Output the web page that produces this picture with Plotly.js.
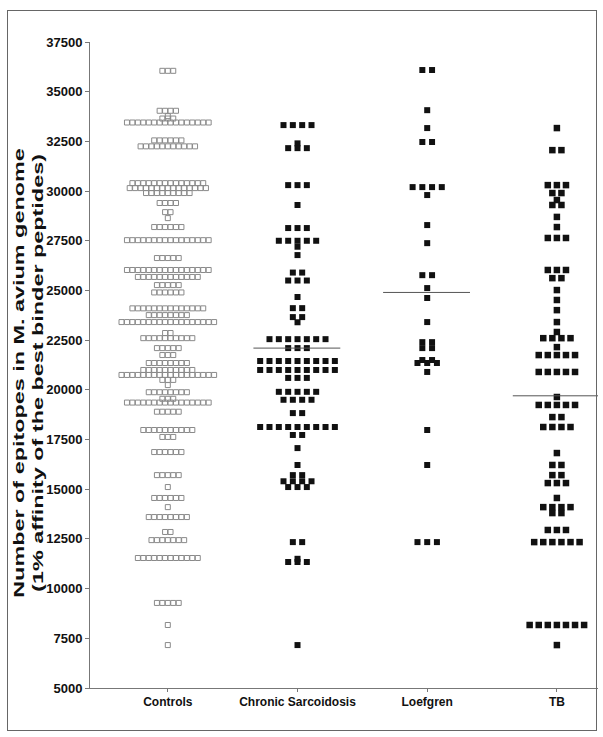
<!DOCTYPE html>
<html>
<head>
<meta charset="utf-8">
<script src="https://cdn.plot.ly/plotly-3.0.1.min.js"></script>
<style>
  html, body { margin: 0; padding: 0; background: #fff; }
  #wrap { position: relative; width: 603px; height: 737px; }
  #frame { position: absolute; left: 7px; top: 10px; width: 588px; height: 719px; border: 1px solid #666; pointer-events: none; }
  #chart { position: absolute; left: 0; top: 0; width: 603px; height: 737px; }
</style>
</head>
<body>
<div id="wrap">
  <div id="chart"></div>
  <div id="frame"></div>
</div>
<script>
// ---- Data (value levels and number of points at each level) ----
const categories = ['Controls', 'Chronic Sarcoidosis', 'Loefgren', 'TB'];

const controlsLevels = [36050,34040,33770,33650,33450,32550,32250,30400,30150,29900,29400,28940,28640,28190,27530,26630,26030,25680,25270,24900,24100,23760,23410,22860,22600,22100,21750,21350,21000,20750,20500,20240,19880,19550,19360,18900,17980,17630,16870,15710,15110,14560,14100,13600,12850,12440,11540,9280,8170,7160];
const controlsCounts = [3,4,1,3,16,6,11,14,15,9,4,2,1,6,16,5,16,12,5,6,14,8,18,2,10,5,3,8,10,18,3,1,8,3,16,5,10,3,6,5,1,6,1,8,2,7,12,5,1,1];

const chronicLevels = [33320,32400,32160,30300,29300,28140,27500,27200,26780,25900,25500,24670,24110,23660,23400,22550,22100,21450,21000,20600,19900,19500,18830,18130,17730,17070,16220,15710,15400,15110,12340,11500,11340,7160];
const chronicCounts = [4,1,3,3,1,3,5,1,1,2,3,1,2,2,1,7,3,9,9,3,5,4,2,9,2,1,1,2,4,3,2,1,3,1];

const loefgrenLevels = [36090,34070,33170,32470,30200,29800,28290,27380,25770,25120,24620,23410,22400,22100,21500,21350,20900,17980,16220,12340];
const loefgrenCounts = [2,1,1,2,4,1,1,1,2,1,1,1,2,2,2,3,1,1,1,3];

const tbLevels = [33170,32060,30300,29900,29550,29300,28700,28190,27640,26030,25620,25020,24520,24010,23410,22910,22600,22150,21750,20900,19640,19240,18630,18130,16820,16220,15710,15310,14560,14100,13800,12950,12340,8170,7160];
const tbCounts = [1,2,3,2,1,2,1,1,3,3,2,1,1,1,1,1,4,1,5,5,1,5,2,4,1,2,2,3,1,4,2,3,6,7,1];

// group means drawn as horizontal lines (none visible for Controls)
const groupMeans = [null, 22100, 24900, 19700];

const yTicks = [5000,7500,10000,12500,15000,17500,20000,22500,25000,27500,30000,32500,35000,37500];

// ---- Build the dot columns: points sharing a level are spread side by side ----
function column(idx, levels, counts, step) {
  const xs = [], ys = [];
  levels.forEach((v, i) => {
    const n = counts[i];
    for (let k = 0; k < n; k++) {
      xs.push(idx + (k - (n - 1) / 2) * step);
      ys.push(v);
    }
  });
  return {xs, ys};
}

const cCtl = column(0, controlsLevels, controlsCounts, 0.042);
const cChr = column(1, chronicLevels, chronicCounts, 0.072);
const cLoe = column(2, loefgrenLevels, loefgrenCounts, 0.075);
const cTB  = column(3, tbLevels, tbCounts, 0.07);

const traces = [
  {x: cCtl.xs, y: cCtl.ys, type: 'scatter', mode: 'markers', name: categories[0],
   marker: {symbol: 'square-open', size: 5, color: '#8a8a8a', line: {width: 1, color: '#8a8a8a'}}},
  {x: cChr.xs, y: cChr.ys, type: 'scatter', mode: 'markers', name: categories[1],
   marker: {symbol: 'square', size: 6, color: '#111'}},
  {x: cLoe.xs, y: cLoe.ys, type: 'scatter', mode: 'markers', name: categories[2],
   marker: {symbol: 'square', size: 6, color: '#111'}},
  {x: cTB.xs, y: cTB.ys, type: 'scatter', mode: 'markers', name: categories[3],
   marker: {symbol: 'square', size: 6.5, color: '#111'}}
];

// mean lines
groupMeans.forEach((m, i) => {
  if (m === null) return;
  traces.push({x: [i - 0.34, i + 0.33], y: [m, m], type: 'scatter', mode: 'lines',
    line: {color: '#555', width: 1}, hoverinfo: 'skip', showlegend: false});
});

const fontFam = '"Liberation Sans", Arial, sans-serif';

const layout = {
  width: 603, height: 737,
  margin: {l: 90, r: 5, t: 42, b: 49},
  paper_bgcolor: '#fff', plot_bgcolor: '#fff',
  showlegend: false,
  font: {family: fontFam, color: '#111'},
  xaxis: {
    range: [-0.6, 3.317],
    tickvals: [0, 1, 2, 3], ticktext: categories,
    showgrid: false, zeroline: false,
    showline: true, linecolor: '#777', linewidth: 1,
    ticks: 'outside', ticklen: 3, tickcolor: '#777',
    tickfont: {family: fontFam, size: 12, weight: 'bold', color: '#111'}
  },
  yaxis: {
    range: [5000, 37500],
    tickvals: yTicks, ticktext: yTicks.map(String),
    showgrid: false, zeroline: false,
    showline: true, linecolor: '#777', linewidth: 1,
    ticks: 'outside', ticklen: 4, tickcolor: '#777',
    tickfont: {family: fontFam, size: 13, weight: 'bold', color: '#111'},
    title: {
      text: 'Number of epitopes in M. avium genome<br>(1% affinity of the best binder peptides)',
      font: {family: fontFam, size: 15, weight: 'bold', color: '#111'},
      standoff: 1
    }
  }
};

Plotly.newPlot('chart', traces, layout, {displayModeBar: false, staticPlot: true}).then(() => {
  // the reference's y title is drawn elongated along its length; stretch it the same way
  const t = document.querySelector('#chart .ytitle');
  if (!t) return;
  const x = parseFloat(t.getAttribute('x')), y = parseFloat(t.getAttribute('y'));
  const tr = t.getAttribute('transform') || '';
  t.setAttribute('transform', tr + ` translate(${x - 8},${y + 3}) scale(1.56,1) translate(${-x},${-y})`);
});
</script>
</body>
</html>
